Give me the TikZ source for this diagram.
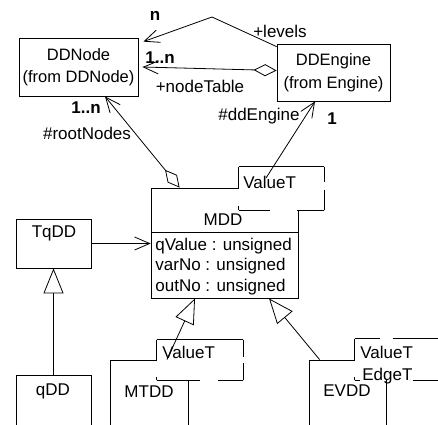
\documentclass[tikz,border=0pt]{standalone}
\usepackage{fontspec}
\setmainfont{Liberation Sans}
\usetikzlibrary{arrows.meta}
\begin{document}
\begin{tikzpicture}[x=1pt,y=-1pt,line width=0.8pt,
  every node/.style={font=\fontsize{17}{20.5}\selectfont},
  cls/.style={draw,rectangle,inner sep=0pt},
  clsname/.style={draw,rectangle,inner sep=0pt,align=center,
    font=\fontsize{16.5}{22.5}\selectfont},
  tmpl/.style={rectangle,fill=white,draw=none,inner sep=0pt},
  txt/.style={inner sep=0pt},
  mult/.style={inner sep=0pt,font=\fontsize{17}{20}\selectfont\bfseries},
  assoc/.style={-{Straight Barb[length=15pt,width=13pt]}},
  gen/.style={-{Triangle[open,fill=white,length=25pt,width=20pt]}},
  aggr/.style={{Diamond[open,fill=white,length=23pt,width=12pt]}-{Straight Barb[length=15pt,width=13pt]}}]
\useasboundingbox (0,0) rectangle (438,424);

% classes
\node[clsname,minimum width=119pt,minimum height=58pt] (ddnode) at (78.5,67)
  {DDNode\\(from DDNode)};
\node[clsname,minimum width=113pt,minimum height=57pt] (eng) at (333.5,72.5)
  {DDEngine\\(from Engine)};
\node[cls,minimum width=75pt,minimum height=49pt] (tq) at (53.5,243.5) {};
\node[txt] (tqname) at (54,233) {TqDD};

\node[cls,minimum width=147pt,minimum height=110pt] (mdd) at (224.5,243) {};
\draw (mdd.west |- 0,232) -- (mdd.east |- 0,232);
\node[txt] (mddname) at (223,220) {MDD};
\node[txt,anchor=west,align=left] (mddattr) at (155,266.5)
  {qValue : unsigned\\varNo : unsigned\\outNo : unsigned};

\node[cls,minimum width=75pt,minimum height=65pt] (qdd) at (53.5,407.5) {};
\node[txt] (qddname) at (53,391) {qDD};
\node[cls,minimum width=78pt,minimum height=80pt] (mt) at (149,400) {};
\node[txt] (mtname) at (149,392) {MTDD};
\node[cls,minimum width=77pt,minimum height=80pt] (ev) at (347.5,400) {};
\node[txt] (evname) at (347,391) {EVDD};

% template parameter boxes
\node[tmpl,minimum width=85pt,minimum height=43pt] (tm) at (281.5,188.5) {};
\draw (tm.north west) -- (tm.north east);
\draw (tm.north east) -- ++(0,15);
\draw (tm.south east) -- ++(0,-20);
\draw (tm.south east) -- ++(-27,0);
\draw (tm.south west) -- ++(31,0);
\draw (tm.north west) -- ++(0,21);
\draw (tm.south west) -- ++(0,-4);
\node[txt,anchor=west] (tmval) at (243,182) {ValueT};

\node[tmpl,minimum width=86pt,minimum height=40pt] (tmt) at (200,360) {};
\draw (tmt.north west) -- (tmt.north east);
\draw (tmt.north east) -- ++(0,17);
\draw (tmt.south east) -- ++(0,-17);
\draw (tmt.south west) -- ++(43,0);
\draw (tmt.south east) -- ++(-25,0);
\draw (tmt.north west) -- ++(0,20);
\draw (tmt.south west) -- ++(0,-3);
\node[txt,anchor=west] (tmtval) at (162,352) {ValueT};

\node[tmpl,minimum width=90pt,minimum height=41pt] (tev) at (400,359.5) {};
\draw (tev.north west) -- ++(25,0);
\draw ([xshift=38pt]tev.north west) -- (tev.north east);
\draw (tev.north west) -- ++(0,21);
\draw (tev.south west) -- ++(0,-3);
\draw (tev.south west) -- ++(5,0);
\draw ([xshift=58pt]tev.south west) -- (tev.south east);
\node[txt,anchor=west] (tevval) at (360,352) {ValueT};
\node[txt,anchor=west] (tevedge) at (362,376) {EdgeT};

% associations
\coordinate (lvbend) at (212,17);
\draw[assoc] ([yshift=-3pt]eng.north west) -- (lvbend) -- ([xshift=5pt,yshift=-4pt]ddnode.north east);
\draw[aggr] ([yshift=2pt]eng.west) -- ([xshift=4pt]ddnode.east);
\draw[aggr] ([xshift=29pt]mdd.north west) -- ([xshift=26.5pt]ddnode.south);
\coordinate (ddeng) at (266,178);
\draw[assoc] (ddeng) -- ([xshift=-18.5pt]eng.south);
\draw[assoc] (tq.east) -- (tq.east -| mdd.west);

% generalizations
\draw[gen] (qdd.north) -- (tq.south);
\draw[gen] ([xshift=18pt]mt.north) -- ([xshift=-29.5pt]mdd.south);
\draw[gen] ([xshift=11pt]ev.north west) -- ([xshift=44.5pt]mdd.south);

% role names and multiplicities
\node[mult] (mlv) at (155,16) {n};
\node[txt] (rlv) at (280,31) {+levels};
\node[mult] (mnt) at (160,58) {1..n};
\node[txt] (rnt) at (200,86) {+nodeTable};
\node[mult] (mrn) at (86,108) {1..n};
\node[txt] (rrn) at (87,133) {\#rootNodes};
\node[txt] (rde) at (259,116) {\#ddEngine};
\node[mult] (mde) at (332,119) {1};
\end{tikzpicture}
\end{document}
